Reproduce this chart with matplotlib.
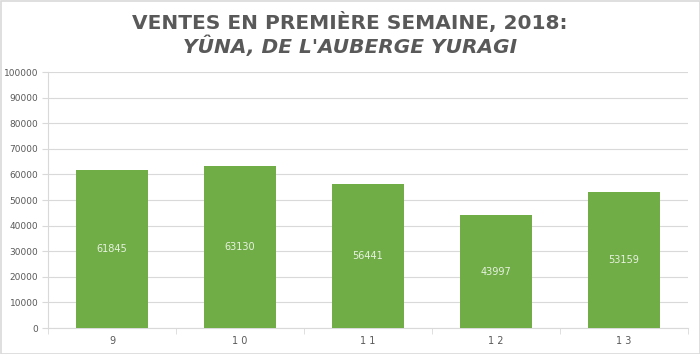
import matplotlib
matplotlib.use("Agg")
import matplotlib.pyplot as plt
from matplotlib.patches import Rectangle

categories = ["9", "10", "11", "12", "13"]
values = [61845, 63130, 56441, 43997, 53159]
yticks = list(range(0, 100001, 10000))

fig = plt.figure(figsize=(7.0, 3.54), dpi=100)
ax = fig.add_axes([48/700, 1-328/354, 640/700, 256/354])

x = range(len(categories))
bars = ax.bar(x, values, width=0.56, color="#70AD47", zorder=3)
for xi, v in zip(x, values):
    ax.text(xi, v/2, str(v), ha="center", va="center", color="#E8F2E0", fontsize=7, zorder=4)

ax.set_xlim(-0.5, len(categories)-0.5)
ax.set_ylim(0, 100000)
ax.set_yticks(yticks)
ax.set_yticklabels([str(t) for t in yticks])
ax.set_xticks(list(x))
ax.set_xticklabels([" ".join(c) for c in categories])
ax.set_xticks([i+0.5 for i in range(-1, len(categories))], minor=True)
ax.tick_params(axis="x", which="major", length=0, pad=6, labelsize=7, labelcolor="#595959")
ax.tick_params(axis="x", which="minor", length=4, color="#D9D9D9", direction="out")
ax.tick_params(axis="y", length=4, color="#D9D9D9", labelsize=6.5, labelcolor="#595959", pad=3)
ax.grid(axis="y", color="#D9D9D9", linewidth=0.8, zorder=0)
for s in ["top", "right"]:
    ax.spines[s].set_visible(False)
ax.spines["left"].set_color("#D9D9D9")
ax.spines["bottom"].set_color("#D9D9D9")

fig.text(0.5, 1-22/354, "VENTES EN PREMIÈRE SEMAINE, 2018:", ha="center", va="center",
         fontsize=14.5, fontweight="bold", color="#595959")
fig.text(0.5, 1-46/354, "YÛNA, DE L'AUBERGE YURAGI", ha="center", va="center",
         fontsize=14.5, fontweight="bold", fontstyle="italic", color="#595959")

fig.patches.append(Rectangle((0.5/700, 0.5/354), 1-1/700, 1-1/354, transform=fig.transFigure,
                             fill=False, edgecolor="#D9D9D9", linewidth=1.2))
fig.savefig("out.png", dpi=100)
